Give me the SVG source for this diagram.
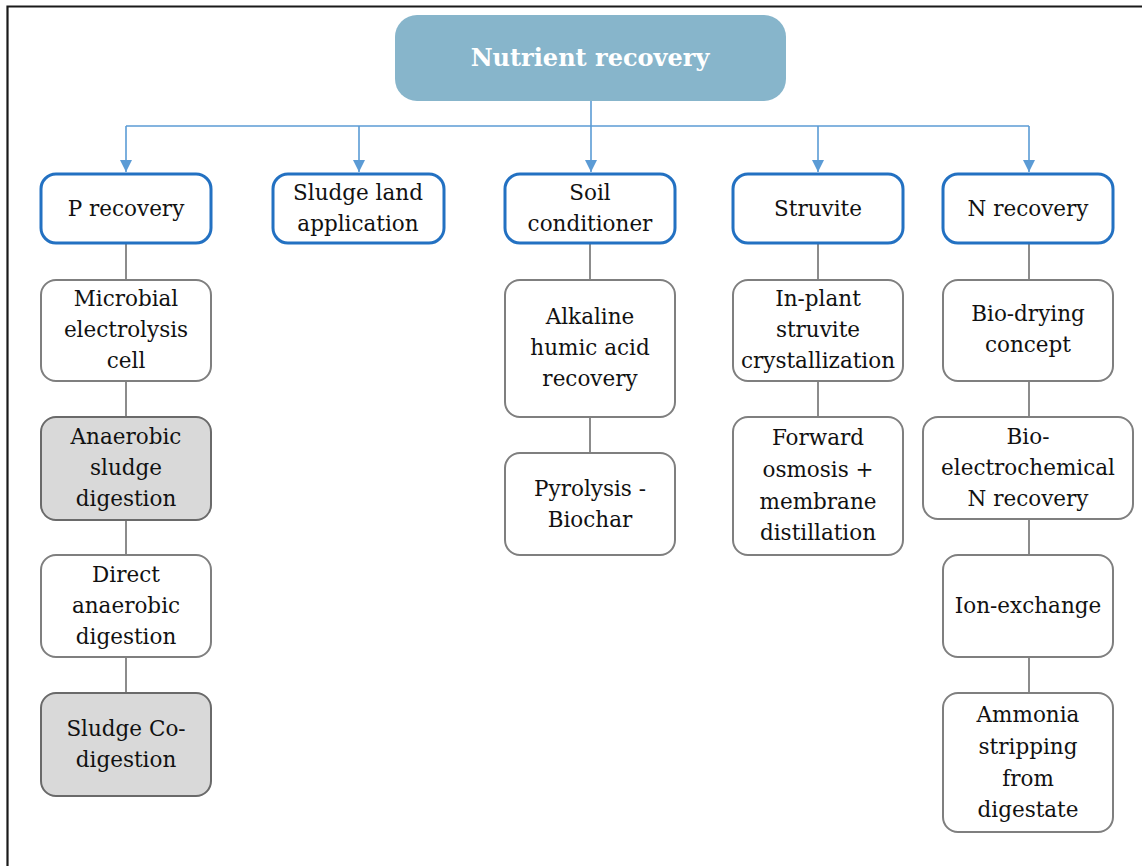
<svg xmlns="http://www.w3.org/2000/svg" width="1142" height="866" viewBox="0 0 1142 866">
  <defs>
    <marker id="arrow" viewBox="0 0 12 12" refX="12" refY="6" markerWidth="12" markerHeight="13" markerUnits="userSpaceOnUse" orient="auto">
      <path d="M0,0 L12,6 L0,12 Z" fill="#5b9bd5"/>
    </marker>
  </defs>
  <style>
    text { font-family: "DejaVu Serif", serif; font-size: 21.5px; fill: #111; text-anchor: middle; }
    .title { font-weight: bold; font-size: 24px; fill: #ffffff; }
    .root { fill: #87b5cb; }
    .cat { fill: #ffffff; stroke: #2371c2; stroke-width: 3; }
    .item { fill: #ffffff; stroke: #7f7f7f; stroke-width: 2; }
    .shade { fill: #d9d9d9; stroke: #6a6a6a; stroke-width: 2; }
    .blue { fill: none; stroke: #5b9bd5; stroke-width: 1.6; }
    .gray { fill: none; stroke: #808080; stroke-width: 1.8; }
  </style>

  <rect width="1142" height="866" fill="#ffffff"/>
  <!-- frame -->
  <path d="M7.5,866 V6.5 H1142" fill="none" stroke="#1a1a1a" stroke-width="2.2"/>

  <!-- connectors -->
  <g id="connectors">
    <path class="blue" d="M126,126 H1029"/>
    <path class="blue" d="M591,101 V172" marker-end="url(#arrow)"/>
    <path class="blue" d="M126,126 V172" marker-end="url(#arrow)"/>
    <path class="blue" d="M359,126 V172" marker-end="url(#arrow)"/>
    <path class="blue" d="M818,126 V172" marker-end="url(#arrow)"/>
    <path class="blue" d="M1029,126 V172" marker-end="url(#arrow)"/>

    <path class="gray" d="M126,243 V280 M126,381 V417 M126,520 V555 M126,657 V693"/>
    <path class="gray" d="M590,243 V280 M590,417 V453"/>
    <path class="gray" d="M818,243 V280 M818,381 V417"/>
    <path class="gray" d="M1029,243 V280 M1029,381 V417 M1029,519 V555 M1029,657 V693"/>
  </g>

  <g id="nutrient-recovery">
    <rect class="root" x="395" y="15" width="391" height="86" rx="22"/>
    <text class="title" x="590" y="66">Nutrient recovery</text>
  </g>

  <g id="p-recovery">
    <rect class="cat" x="41" y="174" width="170" height="69" rx="15"/>
    <text x="126" y="216">P recovery</text>
  </g>
  <g id="sludge-land-application">
    <rect class="cat" x="273" y="174" width="171" height="69" rx="15"/>
    <text x="358" y="200">Sludge land</text>
    <text x="358" y="231">application</text>
  </g>
  <g id="soil-conditioner">
    <rect class="cat" x="505" y="174" width="170" height="69" rx="15"/>
    <text x="590" y="200">Soil</text>
    <text x="590" y="231">conditioner</text>
  </g>
  <g id="struvite">
    <rect class="cat" x="733" y="174" width="170" height="69" rx="15"/>
    <text x="818" y="216">Struvite</text>
  </g>
  <g id="n-recovery">
    <rect class="cat" x="943" y="174" width="170" height="69" rx="15"/>
    <text x="1028" y="216">N recovery</text>
  </g>

  <g id="microbial-electrolysis-cell">
    <rect class="item" x="41" y="280" width="170" height="101" rx="15"/>
    <text x="126" y="306">Microbial</text>
    <text x="126" y="337">electrolysis</text>
    <text x="126" y="368">cell</text>
  </g>
  <g id="anaerobic-sludge-digestion">
    <rect class="shade" x="41" y="417" width="170" height="103" rx="15"/>
    <text x="126" y="444">Anaerobic</text>
    <text x="126" y="475">sludge</text>
    <text x="126" y="506">digestion</text>
  </g>
  <g id="direct-anaerobic-digestion">
    <rect class="item" x="41" y="555" width="170" height="102" rx="15"/>
    <text x="126" y="582">Direct</text>
    <text x="126" y="613">anaerobic</text>
    <text x="126" y="644">digestion</text>
  </g>
  <g id="sludge-co-digestion">
    <rect class="shade" x="41" y="693" width="170" height="103" rx="15"/>
    <text x="126" y="736">Sludge Co-</text>
    <text x="126" y="767">digestion</text>
  </g>

  <g id="alkaline-humic-acid-recovery">
    <rect class="item" x="505" y="280" width="170" height="137" rx="15"/>
    <text x="590" y="324">Alkaline</text>
    <text x="590" y="355">humic acid</text>
    <text x="590" y="386">recovery</text>
  </g>
  <g id="pyrolysis-biochar">
    <rect class="item" x="505" y="453" width="170" height="102" rx="15"/>
    <text x="590" y="496">Pyrolysis -</text>
    <text x="590" y="527">Biochar</text>
  </g>

  <g id="in-plant-struvite-crystallization">
    <rect class="item" x="733" y="280" width="170" height="101" rx="15"/>
    <text x="818" y="306">In-plant</text>
    <text x="818" y="337">struvite</text>
    <text x="818" y="368">crystallization</text>
  </g>
  <g id="forward-osmosis-membrane-distillation">
    <rect class="item" x="733" y="417" width="170" height="138" rx="15"/>
    <text x="818" y="445">Forward</text>
    <text x="818" y="477">osmosis +</text>
    <text x="818" y="509">membrane</text>
    <text x="818" y="540">distillation</text>
  </g>

  <g id="bio-drying-concept">
    <rect class="item" x="943" y="280" width="170" height="101" rx="15"/>
    <text x="1028" y="321">Bio-drying</text>
    <text x="1028" y="352">concept</text>
  </g>
  <g id="bio-electrochemical-n-recovery">
    <rect class="item" x="923" y="417" width="210" height="102" rx="15"/>
    <text x="1028" y="444">Bio-</text>
    <text x="1028" y="475">electrochemical</text>
    <text x="1028" y="506">N recovery</text>
  </g>
  <g id="ion-exchange">
    <rect class="item" x="943" y="555" width="170" height="102" rx="15"/>
    <text x="1028" y="613">Ion-exchange</text>
  </g>
  <g id="ammonia-stripping-from-digestate">
    <rect class="item" x="943" y="693" width="170" height="139" rx="15"/>
    <text x="1028" y="722">Ammonia</text>
    <text x="1028" y="754">stripping</text>
    <text x="1028" y="786">from</text>
    <text x="1028" y="817">digestate</text>
  </g>
</svg>
